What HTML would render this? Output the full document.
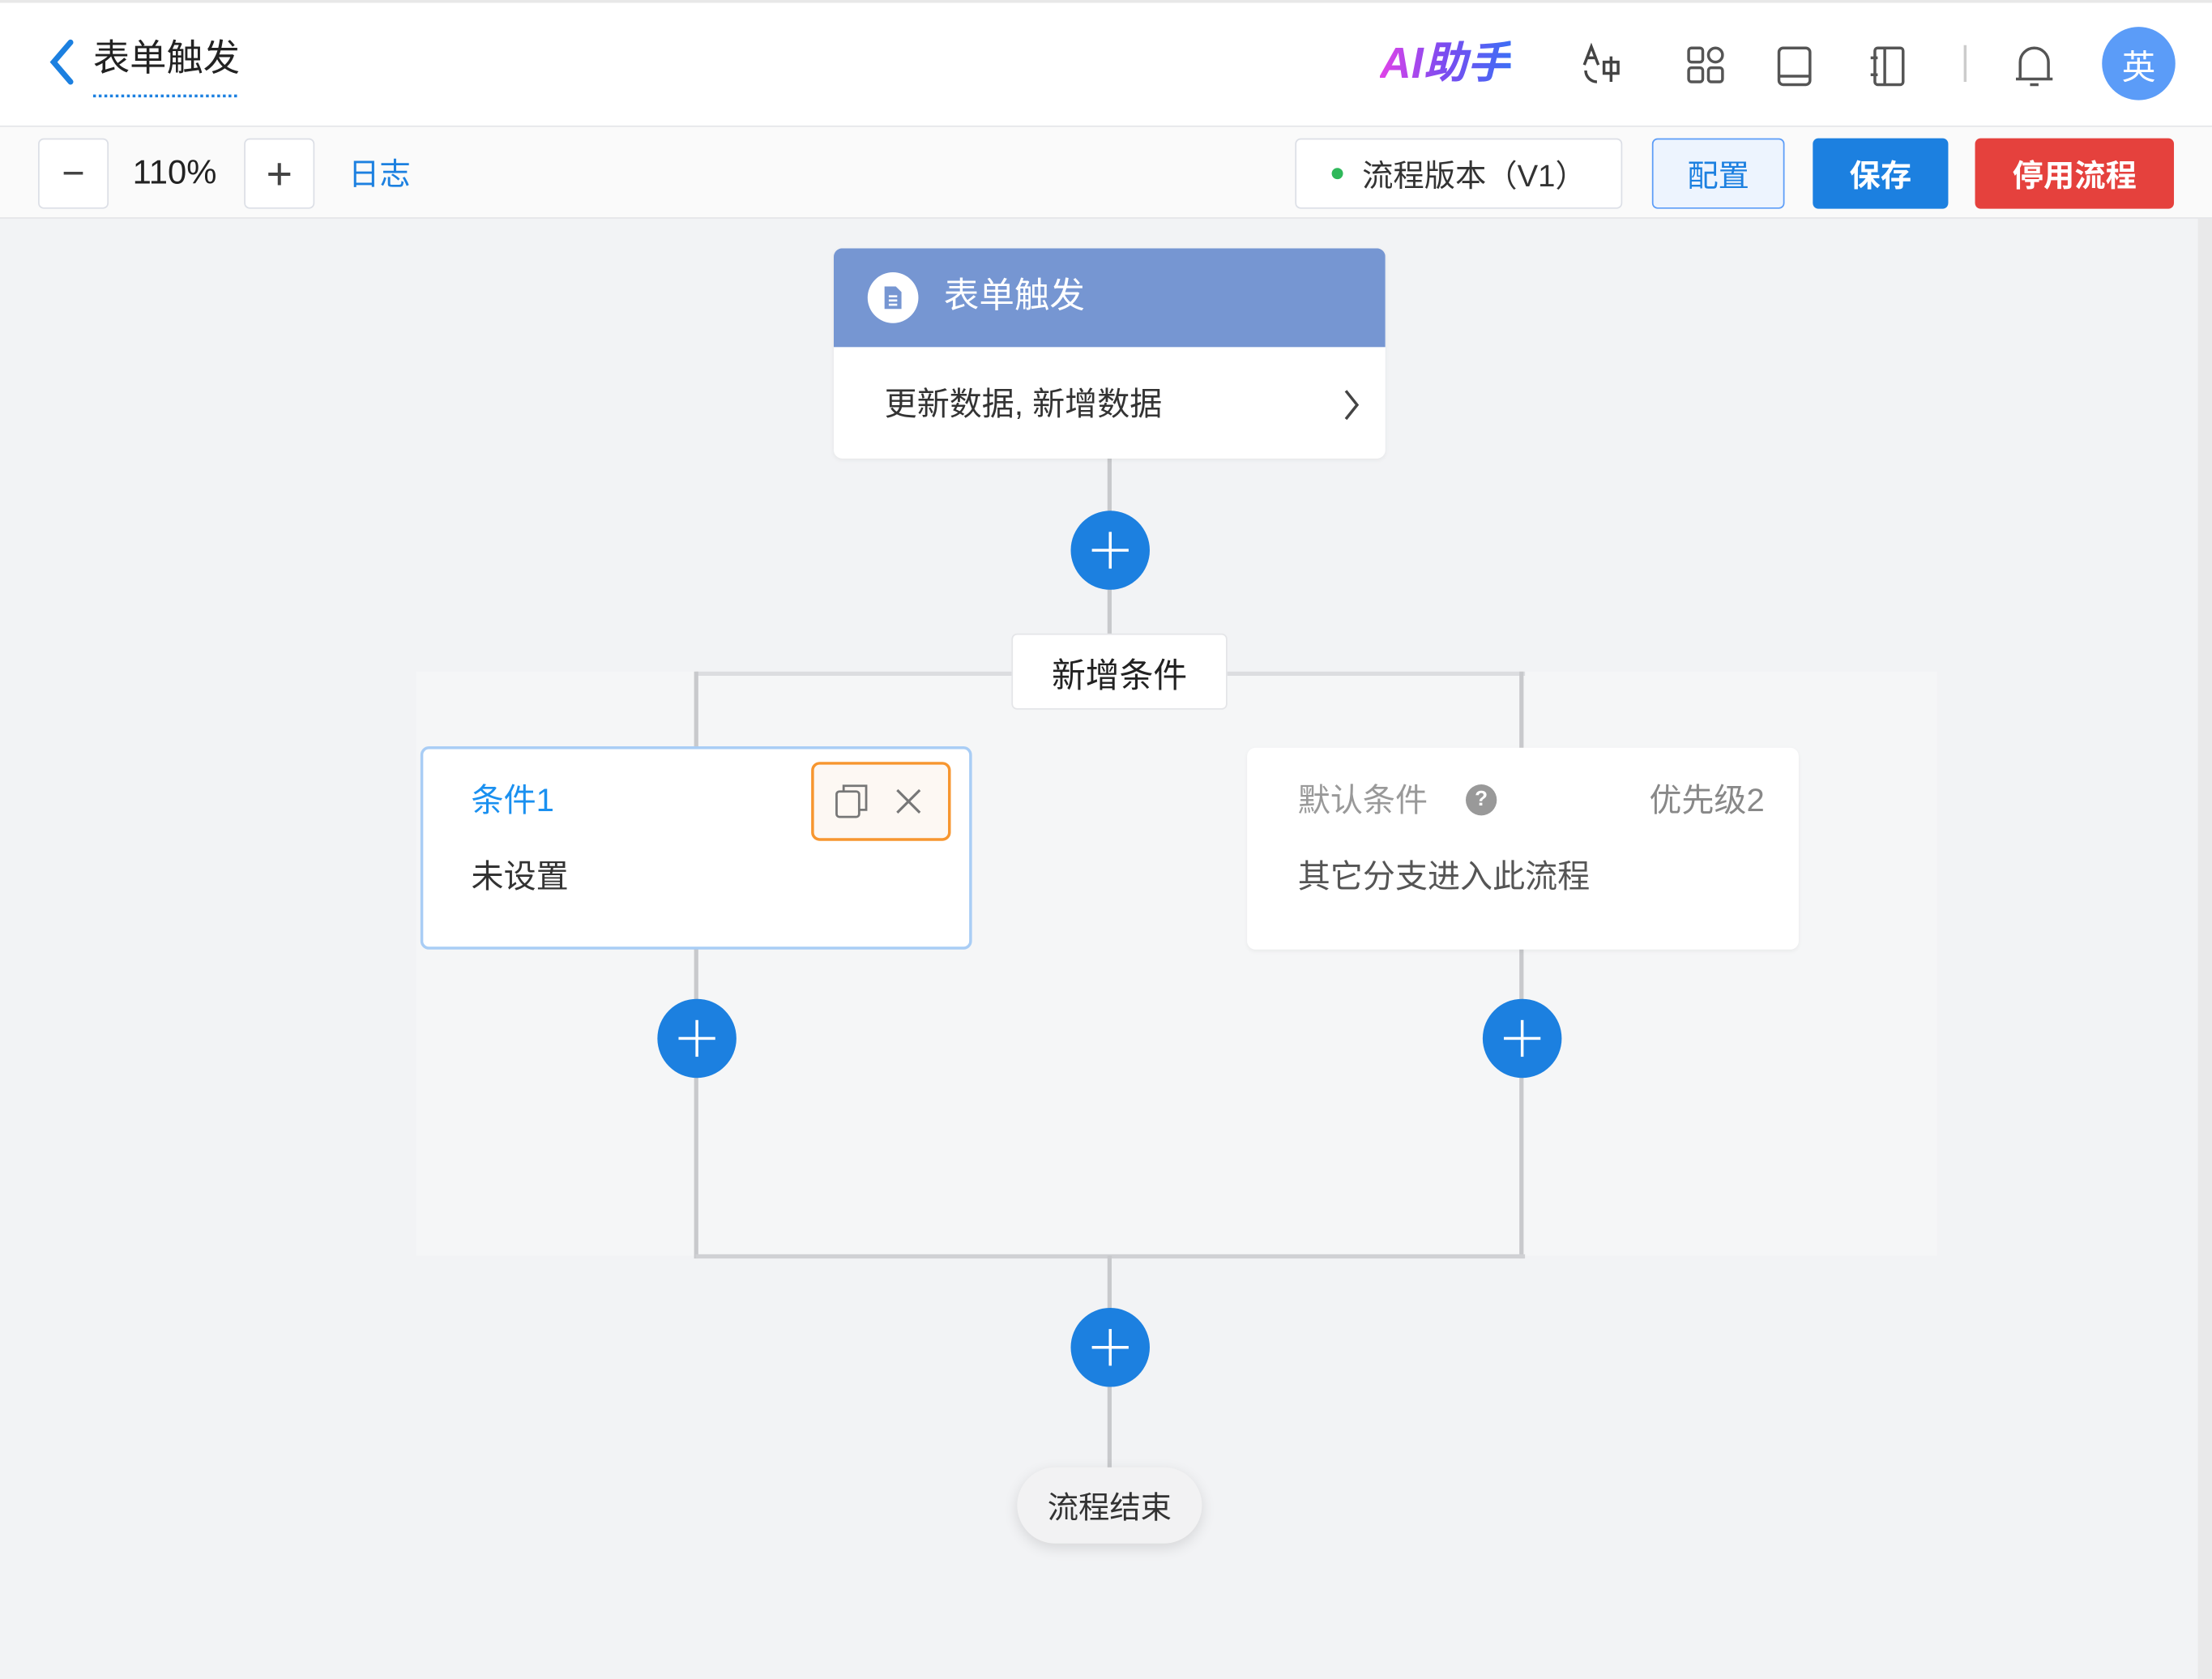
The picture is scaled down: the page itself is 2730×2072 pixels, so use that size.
<!DOCTYPE html>
<html><head><meta charset="utf-8"><style>
html,body{margin:0;padding:0;width:2730px;height:2072px;overflow:hidden;background:#f2f3f5}
#s{position:absolute;left:0;top:0;width:1568px;height:1190px;transform:scale(1.7411);transform-origin:0 0;background:#f2f3f5;font-family:"Liberation Sans","Noto Sans CJK SC",sans-serif;color:#333}
.a{position:absolute}
.t{position:absolute;white-space:nowrap;line-height:1}
.btn{position:absolute;box-sizing:border-box;border-radius:4px;display:flex;align-items:center;justify-content:center;font-size:22px}
.plus{position:absolute;width:56px;height:56px;border-radius:50%;background:#1c80e0;margin:-28px 0 0 -28px}
.plus:before,.plus:after{content:"";position:absolute;background:#fff;left:50%;top:50%}
.plus:before{width:26px;height:2px;margin:-1px 0 0 -13px}
.plus:after{width:2px;height:26px;margin:-13px 0 0 -1px}
.vl{position:absolute;width:3px;background:#c8c9cc}
.hl{position:absolute;height:3px;background:#dcdde0}
</style></head><body><div id="s">
<div class="a" style="left:0;top:0;width:1568px;height:90px;background:#fff;border-bottom:1px solid #e4e5e8;border-top:2px solid #e8e8e8;box-sizing:border-box"></div>
<svg class="a" style="left:32px;top:26px" width="24" height="36"><path d="M18 4 L6 18 L18 32" fill="none" stroke="#1c80e0" stroke-width="4" stroke-linecap="round"/></svg>
<div class="t" style="left:66px;top:28px;font-size:26px;color:#222">表单触发</div>
<div class="a" style="left:66px;top:67px;width:102px;border-top:2px dotted #1c80e0"></div>
<div class="t" style="left:978px;top:29px;font-size:31px;font-weight:bold;font-style:italic;background:linear-gradient(90deg,#e043e8,#7a4cf0,#3d6ef5);-webkit-background-clip:text;color:transparent">AI助手</div>
<svg class="a" style="left:1120px;top:30px" width="30" height="32" fill="none" stroke="#444" stroke-width="2"><path d="M3 16 L8 3 L13 16 M5 11 H11"/><path d="M4 20 A8 8 0 0 0 12 28" /><rect x="17" y="14" width="10" height="8"/><line x1="22" y1="10" x2="22" y2="28"/></svg>
<svg class="a" style="left:1195px;top:32px" width="28" height="28" fill="none" stroke="#555" stroke-width="2"><rect x="2" y="2" width="10" height="10" rx="2"/><rect x="2" y="16" width="10" height="10" rx="2"/><rect x="16" y="16" width="10" height="10" rx="2"/><rect x="16" y="2" width="10" height="10" rx="5"/></svg>
<svg class="a" style="left:1259px;top:32px" width="26" height="30" fill="none" stroke="#555" stroke-width="2"><rect x="2" y="2" width="22" height="26" rx="3"/><line x1="2" y1="22" x2="24" y2="22"/></svg>
<svg class="a" style="left:1325px;top:32px" width="26" height="30" fill="none" stroke="#555" stroke-width="2"><rect x="4" y="2" width="20" height="26" rx="2"/><line x1="11" y1="2" x2="11" y2="28"/><line x1="1" y1="9" x2="6" y2="9"/><line x1="1" y1="21" x2="6" y2="21"/></svg>
<div class="a" style="left:1392px;top:32px;width:2px;height:26px;background:#ccc"></div>
<svg class="a" style="left:1427px;top:30px" width="30" height="34" fill="none" stroke="#555" stroke-width="2"><path d="M5 26 L5 14 A10 10 0 0 1 25 14 L25 26 Z M2 26 H28 M12 30 H18"/></svg>
<div class="a" style="left:1490px;top:19px;width:52px;height:52px;border-radius:50%;background:#5b9cf8;color:#fff;font-size:24px;display:flex;align-items:center;justify-content:center">英</div>
<div class="a" style="left:0;top:90px;width:1568px;height:65px;background:#fafafa;border-bottom:1px solid #e4e5e8;box-sizing:border-box"></div>
<div class="btn" style="left:27px;top:98px;width:50px;height:50px;border:1px solid #dcdfe6;background:#fff;font-size:28px;color:#444">−</div>
<div class="t" style="left:94px;top:111px;font-size:24px;color:#222">110%</div>
<div class="btn" style="left:173px;top:98px;width:50px;height:50px;border:1px solid #dcdfe6;background:#fff;font-size:32px;color:#444">+</div>
<div class="t" style="left:247px;top:113px;font-size:22px;color:#1c80e0">日志</div>
<div class="btn" style="left:918px;top:98px;width:232px;height:50px;border:1px solid #dcdfe6;background:#fff;color:#333"><span style="width:8px;height:8px;border-radius:50%;background:#2fb85a;margin-right:14px"></span>流程版本（V1）</div>
<div class="btn" style="left:1171px;top:98px;width:94px;height:50px;border:1px solid #5b9cf8;background:#edf4fe;color:#1c80e0">配置</div>
<div class="btn" style="left:1285px;top:98px;width:96px;height:50px;background:#1c80e0;color:#fff;font-weight:bold">保存</div>
<div class="btn" style="left:1400px;top:98px;width:141px;height:50px;background:#e5413d;color:#fff;font-weight:bold">停用流程</div>
<div class="a" style="left:1558px;top:155px;width:10px;height:1035px;background:#e0e0e0;opacity:.5"></div>
<div class="a" style="left:295px;top:476px;width:1078px;height:414px;background:#f5f6f7"></div>
<div class="vl" style="left:785px;top:325px;height:125px"></div>
<div class="hl" style="left:493px;top:476px;width:588px"></div>
<div class="vl" style="left:492px;top:476px;height:416px"></div>
<div class="vl" style="left:1077px;top:476px;height:416px"></div>
<div class="hl" style="left:493px;top:889px;width:588px;background:#d0d1d4"></div>
<div class="vl" style="left:785px;top:890px;height:152px"></div>
<div class="a" style="left:591px;top:176px;width:391px;height:149px;background:#fff;border-radius:6px;overflow:hidden;box-shadow:0 1px 3px rgba(0,0,0,.05)">
<div class="a" style="left:0;top:0;width:391px;height:70px;background:#7696d2"></div>
<div class="a" style="left:24px;top:17px;width:36px;height:36px;border-radius:50%;background:#fff"></div>
<svg class="a" style="left:34px;top:26px" width="16" height="18"><path d="M2 1 H10 L14 5 V17 H2 Z" fill="#7696d2"/><path d="M5 8 H11 M5 11 H11 M5 14 H11" stroke="#fff" stroke-width="1.5"/></svg>
<div class="t" style="left:78px;top:22px;font-size:25px;color:#fff">表单触发</div>
<div class="t" style="left:36px;top:99px;font-size:23px;color:#333">更新数据, 新增数据</div>
<svg class="a" style="left:360px;top:99px" width="14" height="24"><path d="M3 2 L11 12 L3 22" fill="none" stroke="#444" stroke-width="2"/></svg>
</div>
<div class="plus" style="left:787px;top:390px"></div>
<div class="btn" style="left:717px;top:449px;width:153px;height:54px;background:#fff;border:1px solid #e4e5e8;font-size:24px;color:#222">新增条件</div>
<div class="a" style="left:298px;top:529px;width:391px;height:144px;box-sizing:border-box;background:#fff;border:2px solid #a9cdf5;border-radius:6px"></div>
<div class="t" style="left:334px;top:556px;font-size:23px;color:#1a90f0">条件1</div>
<div class="t" style="left:334px;top:610px;font-size:23px;color:#333">未设置</div>
<div class="a" style="left:575px;top:540px;width:99px;height:56px;box-sizing:border-box;border:2px solid #f7962f;border-radius:6px;background:#fdf8f3"></div>
<svg class="a" style="left:590px;top:554px" width="28" height="28" fill="none" stroke="#777" stroke-width="1.6"><rect x="3" y="7" width="16" height="18" rx="2"/><path d="M8 7 V3 H24 V20 H19"/></svg>
<svg class="a" style="left:633px;top:557px" width="22" height="22" stroke="#777" stroke-width="1.8"><path d="M3 3 L19 19 M19 3 L3 19"/></svg>
<div class="a" style="left:884px;top:530px;width:391px;height:143px;background:#fff;border-radius:6px;box-shadow:0 1px 3px rgba(0,0,0,.05)"></div>
<div class="t" style="left:920px;top:556px;font-size:23px;color:#999">默认条件</div>
<div class="a" style="left:1039px;top:556px;width:22px;height:22px;border-radius:50%;background:#999;color:#fff;font-size:15px;font-weight:bold;text-align:center;line-height:22px">?</div>
<div class="t" style="left:1169px;top:556px;font-size:23px;color:#888">优先级2</div>
<div class="t" style="left:920px;top:610px;font-size:23px;color:#555">其它分支进入此流程</div>
<div class="plus" style="left:494px;top:736px"></div>
<div class="plus" style="left:1079px;top:736px"></div>
<div class="plus" style="left:787px;top:955px"></div>
<div class="btn" style="left:721px;top:1040px;width:131px;height:54px;border-radius:27px;background:#f2f2f3;box-shadow:0 3px 10px rgba(0,0,0,.12);color:#333">流程结束</div>
</div></body></html>
